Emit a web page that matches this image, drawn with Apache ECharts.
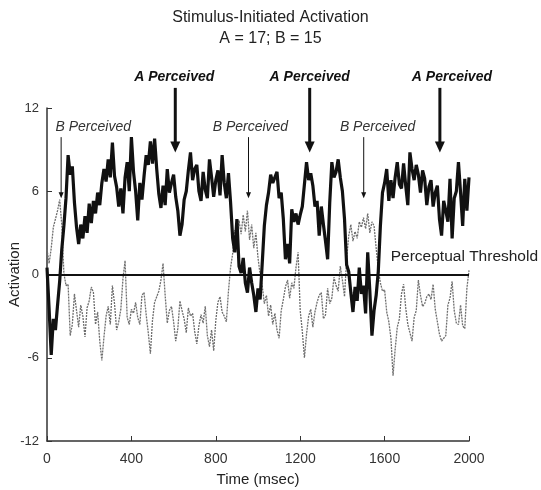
<!DOCTYPE html>
<html>
<head>
<meta charset="utf-8">
<script src="https://cdn.jsdelivr.net/npm/echarts@6/dist/echarts.min.js"></script>
<style>
  html, body { margin: 0; padding: 0; background: #fff; }
  #main { width: 541px; height: 490px; }
</style>
</head>
<body>
<div id="main"></div>
<script>
var dom = document.getElementById('main');
var myChart = echarts.init(dom);

// time axis, one sample every 10 msec
var times = [];
for (var i = 0; i <= 200; i++) times.push(i * 10);

// stimulus A activation (thick black trace)
var seriesA = [
  0.5, -2.5, -5.8, -3.2, -4.0, -2.2, -0.5, 1.8, 3.5, 5.5,
  8.6, 7.2, 7.8, 5.2, 3.4, 2.2, 3.6, 2.6, 4.2, 3.0,
  5.1, 3.7, 5.3, 4.4, 5.9, 5.0, 6.6, 7.6, 6.7, 8.3,
  7.0, 9.5, 7.1, 6.3, 4.9, 6.2, 4.4, 7.0, 8.1, 6.0,
  9.9, 7.4, 6.0, 3.9, 6.6, 5.4, 7.1, 8.6, 7.9, 9.6,
  8.0, 9.8, 7.6, 5.8, 4.8, 6.4, 5.0, 7.6, 5.9, 6.6,
  7.2, 5.6, 4.6, 2.8, 3.6, 5.4, 6.0, 7.5, 8.8, 6.8,
  7.6, 7.9, 6.0, 5.3, 7.4, 6.1, 5.5, 8.3, 7.0, 5.6,
  6.8, 7.5, 5.7, 8.6, 6.6, 5.5, 7.3, 5.2, 2.6, 1.6,
  4.0, 0.6, 0.1, 1.2, -0.6, -1.3, 0.5, -0.6, -1.5, -2.7,
  -1.0, -1.8, 0.8, 3.5, 5.0, 5.9, 7.2, 6.6, 7.0, 7.4,
  5.5, 5.9, 4.0, 1.1, 2.2, 0.8, 4.7, 3.8, 4.4, 3.6,
  4.3, 4.9, 6.5, 8.1, 6.8, 7.3, 6.4, 4.9, 5.3, 2.8,
  4.9, 3.6, 2.4, 1.1, 5.2, 8.1, 7.0, 7.4, 8.3, 7.0,
  6.0, 4.0, 0.7, 0.2, -1.3, -2.7, -0.9, -1.9, 0.5, -1.4,
  -0.8, -2.8, 1.6, -1.2, -4.4, -2.6, -1.5, 0.2, 3.5, 5.9,
  6.6, 7.6, 5.3, 6.8, 5.5, 7.0, 8.1, 6.5, 6.2, 8.0,
  6.4, 5.0, 8.8, 7.6, 6.8, 7.9, 7.2, 5.9, 7.5, 6.9,
  5.0, 6.3, 6.8, 4.9, 5.9, 6.4, 4.0, 2.8, 5.3, 4.6,
  3.8, 6.9, 2.6, 5.5, 6.0, 8.1, 5.9, 3.5, 6.9, 4.6,
  7.0
];

// stimulus B activation (thin grey trace)
var seriesB = [
  1.8, 0.8, 1.9, 3.4, 4.0, 4.6, 5.4, 3.6, 0.1, -0.8,
  -0.7, -4.4, -3.6, -1.4, -2.6, -3.8, -2.2, -3.0, -4.5, -2.4,
  -1.9, -0.9, -1.3, -3.6, -2.7, -4.8, -6.2, -4.5, -3.0, -2.3,
  -3.6, -0.8, -2.1, -4.0, -3.4, -2.5, -0.3, 1.0, -3.1, -3.6,
  -2.5, -2.8, -2.0, -3.1, -3.6, -1.5, -1.3, -2.9, -4.2, -5.7,
  -3.3, -2.0, -1.6, -1.2, -0.4, 0.8, -1.5, -3.5, -2.6, -2.3,
  -3.4, -4.8, -3.9, -1.9, -2.6, -3.2, -4.2, -2.4, -3.0, -2.8,
  -4.1, -5.0, -3.7, -2.9, -3.5, -2.3, -4.4, -5.2, -4.0, -5.5,
  -3.3, -2.0, -1.6, -2.7, -3.0, -3.4, -1.2, 0.5, 1.5, 3.2,
  2.0, 3.9, 2.9, 4.3, 3.1, 4.6, 2.5, 3.6, 1.9, 3.0,
  1.2, 0.0, -0.8, -2.1, -1.5, -3.0, -2.2, -3.6, -2.8, -4.0,
  -4.6, -2.6, -1.8, -0.9, -0.4, -1.7, -0.6, -1.0, 0.5, 1.6,
  -2.6, -4.1, -6.0, -4.3, -3.0, -2.5, -3.8, -2.7, -2.0, -1.5,
  -1.3, -3.2, -2.9, -1.0, -2.1, -1.7, -0.2, -0.8, -1.2, 0.6,
  -0.4, -1.6, 1.1, 2.8, 3.6, 2.4, 3.1, 2.6, 3.8, 3.4,
  4.1, 3.3, 4.4, 3.0, 3.8, 3.5, 1.9, 0.4, -0.6, -1.2,
  -1.1, -2.7, -3.4, -4.6, -7.3, -5.4, -3.8, -3.2, -1.4, -0.7,
  -2.4, -3.6, -4.2, -4.8, -3.1, -2.6, -0.4, -1.5, -2.3, -2.1,
  -1.6, -1.4, -1.8, -0.7, -2.5, -3.4, -4.3, -4.8, -4.6, -4.4,
  -2.2, -1.7, -0.5, -2.6, -3.5, -3.6, -2.2, -3.7, -3.9, -1.0,
  0.3
];

var xTicks = [0, 400, 800, 1200, 1600, 2000];
var yTicks = [-12, -6, 0, 6, 12];
var threshold = 0;

// annotations: [arrow time, label time]
var aPerceived = [[608, 603], [1245, 1245], [1862, 1919]];
var bPerceived = [[67, 219], [955, 964], [1501, 1567]];

function pairs(ys) {
  return ys.map(function (v, i) { return [times[i], v]; });
}

var font = 'Liberation Sans, Arial, Helvetica, sans-serif';

option = {
  animation: false,
  backgroundColor: '#fff',
  title: {
    text: 'Stimulus-Initiated Activation',
    subtext: 'A = 17; B = 15',
    left: 'center',
    top: 5,
    itemGap: 5,
    textStyle: { fontFamily: font, fontSize: 16, fontWeight: 'normal', color: '#222' },
    subtextStyle: { fontFamily: font, fontSize: 16, color: '#222' }
  },
  grid: {
    left: 47,
    right: 72,
    top: 108,
    bottom: 49,
    containLabel: false,
    outerBoundsMode: 'none'
  },
  xAxis: {
    type: 'value',
    min: xTicks[0],
    max: xTicks[xTicks.length - 1],
    interval: 400,
    name: 'Time (msec)',
    nameLocation: 'middle',
    nameGap: 31,
    nameTextStyle: { fontFamily: font, fontSize: 15, color: '#222' },
    axisLine: { onZero: false, lineStyle: { color: '#333', width: 1.5 } },
    axisTick: { inside: true, length: 5, lineStyle: { color: '#333' } },
    axisLabel: { fontFamily: font, fontSize: 14, color: '#333', margin: 11,
                 formatter: function (v) { return String(v); } },
    splitLine: { show: false }
  },
  yAxis: {
    type: 'value',
    min: yTicks[0],
    max: yTicks[yTicks.length - 1],
    interval: 6,
    name: 'Activation',
    nameLocation: 'middle',
    nameGap: 25,
    nameMoveOverlap: false,
    nameTextStyle: { fontFamily: font, fontSize: 15, color: '#222' },
    axisLine: { show: true, onZero: false, lineStyle: { color: '#333', width: 1.5 } },
    axisTick: { show: true, inside: true, length: 5, lineStyle: { color: '#333' } },
    axisLabel: { fontFamily: font, fontSize: 13, color: '#333', margin: 8 },
    splitLine: { show: false }
  },
  series: [
    {
      name: 'B',
      type: 'line',
      data: pairs(seriesB),
      symbol: 'none',
      lineStyle: { color: '#6e6e6e', width: 1.3, type: [2, 1] },
      z: 2
    },
    {
      name: 'A',
      type: 'line',
      data: pairs(seriesA),
      symbol: 'none',
      lineStyle: { color: '#111', width: 3.2 },
      z: 3,
      markLine: {
        silent: true,
        symbol: 'none',
        label: { show: false },
        lineStyle: { color: '#111', width: 2, type: 'solid' },
        data: [{ yAxis: threshold }]
      }
    }
  ]
};
if (option && typeof option === "object") {
    myChart.setOption(option, true);
}

// arrows and labels placed through the chart's own scales
function px(t, v) {
  return myChart.convertToPixel({ gridIndex: 0 }, [t, v]);
}

function arrow(t, vTop, vTip, w, head, headLen) {
  var p0 = px(t, vTop), p1 = px(t, vTip);
  return [
    {
      type: 'line',
      shape: { x1: p0[0], y1: p0[1], x2: p1[0], y2: p1[1] - headLen + 1 },
      style: { stroke: '#111', lineWidth: w }
    },
    {
      type: 'polygon',
      shape: { points: [[p1[0] - head, p1[1] - headLen], [p1[0] + head, p1[1] - headLen], [p1[0], p1[1]]] },
      style: { fill: '#111' }
    }
  ];
}

var graphics = [];
aPerceived.forEach(function (a) {
  graphics = graphics.concat(arrow(a[0], 13.45, 8.8, 3, 5, 11));
  var lp = px(a[1], 14.2);
  graphics.push({
    type: 'text', x: lp[0], y: lp[1],
    style: { text: 'A Perceived', fontFamily: font, fontSize: 14, fontWeight: 'bold', fontStyle: 'italic',
             fill: '#111', align: 'center', verticalAlign: 'middle' }
  });
});
bPerceived.forEach(function (b) {
  graphics = graphics.concat(arrow(b[0], 9.9, 5.5, 1, 2.5, 6));
  var lp = px(b[1], 10.6);
  graphics.push({
    type: 'text', x: lp[0], y: lp[1],
    style: { text: 'B Perceived', fontFamily: font, fontSize: 14, fontStyle: 'italic',
             fill: '#333', align: 'center', verticalAlign: 'middle' }
  });
});
var tp = px(1629, 1.3);
graphics.push({
  type: 'text', x: tp[0], y: tp[1],
  style: { text: 'Perceptual Threshold', fontFamily: font, fontSize: 15.5, fill: '#222',
           align: 'left', verticalAlign: 'middle' }
});

myChart.setOption({ graphic: graphics });
</script>
</body>
</html>
